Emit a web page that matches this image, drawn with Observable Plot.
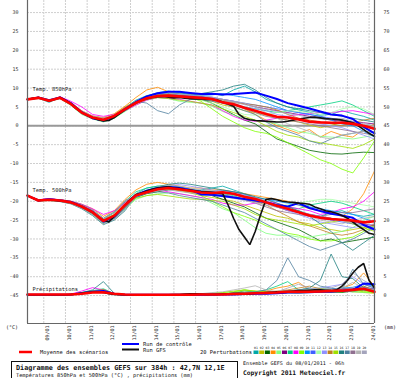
<!DOCTYPE html>
<html><head><meta charset="utf-8">
<script src="https://cdn.jsdelivr.net/npm/d3@7"></script>
<script src="https://cdn.jsdelivr.net/npm/@observablehq/plot@0.6"></script>
<style>body{margin:0;background:#fff}#c{width:400px;height:378px}</style>
</head><body><div id="c"></div><script>
// ---- axes / categories ----
const runStart = Date.UTC(2011, 0, 8, 6);
const runEnd = Date.UTC(2011, 0, 24, 6);
const H = 3600e3;
const times12 = d3.range(33).map(i => new Date(runStart + i * 12 * H));
const times6 = d3.range(65).map(i => new Date(runStart + i * 6 * H));
const dayTicks = d3.range(9, 25).map(d => new Date(Date.UTC(2011, 0, d)));
const dayLabels = ["09/01","10/01","11/01","12/01","13/01","14/01","15/01","16/01","17/01","18/01","19/01","20/01","21/01","22/01","23/01","24/01"];
const yTicks = [30,25,20,15,10,5,0,-5,-10,-15,-20,-25,-30,-35,-40,-45];
const rightLabels = [75,70,65,60,55,50,45,40,35,30,25,20,15,10,5,0];
const precipBase = -45;

// ---- mean of scenarios (12h) ----
const mean850 = [7.0,7.4,6.6,7.4,5.8,3.5,2.2,1.6,2.6,4.4,6.1,7.3,7.9,8.0,7.8,7.6,7.4,7.1,6.2,5.7,4.8,4.0,3.1,2.4,2.2,1.7,1.1,0.9,0.8,0.8,0.5,0.0,-0.8];
const mean500 = [-18.5,-19.8,-19.6,-19.8,-20.3,-21.4,-22.9,-25.2,-23.8,-21.0,-18.5,-17.6,-16.8,-16.5,-16.8,-17.2,-17.7,-17.8,-17.6,-18.0,-18.8,-19.4,-20.3,-21.2,-22.0,-22.9,-23.8,-24.4,-24.7,-24.9,-25.1,-25.6,-25.3];
const meanPrec = [0.3,0.3,0.3,0.3,0.3,0.5,0.8,0.9,0.5,0.3,0.2,0.2,0.2,0.2,0.2,0.2,0.3,0.3,0.3,0.4,0.5,0.6,0.7,0.8,1.0,1.0,1.0,1.1,1.2,1.3,1.5,1.8,1.0];

// ---- control run (12h) ----
const ctrl850 = [7.0,7.5,6.8,7.5,6.0,3.6,2.0,1.4,2.5,4.5,6.3,7.8,8.6,9.0,9.0,8.7,8.4,8.5,8.3,8.4,8.6,8.8,8.0,7.1,6.0,5.3,4.6,3.8,3.0,2.7,1.8,-0.3,-2.0];
const ctrl500 = [-18.5,-19.8,-19.5,-19.8,-20.2,-21.3,-22.8,-25.4,-24.0,-21.0,-18.3,-17.2,-16.5,-16.2,-16.5,-17.0,-18.2,-18.3,-18.6,-19.0,-19.4,-19.8,-20.3,-21.0,-21.4,-20.5,-21.8,-22.6,-23.3,-23.8,-24.4,-26.3,-27.5];
const ctrlPrec = [0.2,0.2,0.2,0.2,0.3,0.6,1.0,1.2,0.5,0.2,0.2,0.2,0.2,0.2,0.2,0.2,0.2,0.3,0.3,0.3,0.4,0.5,0.5,0.6,0.8,0.8,0.9,1.0,1.0,1.2,1.5,3.2,3.0];

// ---- GFS run (6h) ----
const gfs850 = [7.0,7.3,7.5,7.0,6.5,7.0,7.5,6.8,5.8, 4.5,3.5,2.7,2.1,1.6,1.3,1.4,2.2, 3.2,4.3,5.3,6.0,6.7,7.2,7.5,7.7, 7.8,7.6,7.4,7.5,7.3,7.2,7.1,7.2, 7.0,7.0,6.8,6.3,5.8,5.2,3.0,2.0, 1.6,1.4,1.3,1.2,1.1,1.0,1.0,1.2, 1.5,1.8,2.0,2.2,2.3,2.1,1.9,1.8, 1.7,1.5,1.2,0.8,0.0,-1.0,-2.0,-2.8];
const gfs500 = [-18.5,-19.2,-19.8,-19.6,-19.6,-19.7,-19.9,-20.0,-20.3, -20.8,-21.5,-22.2,-23.0,-24.0,-25.0,-25.5,-24.0, -22.5,-21.0,-19.5,-18.3,-17.8,-17.3,-16.8,-16.5, -16.3,-16.2,-16.5,-16.6,-16.9,-17.0,-17.2,-17.4, -17.5,-17.6,-17.8,-18.0,-21.0,-24.5,-27.5,-29.5, -31.5,-28.0,-23.5,-19.5,-19.3,-19.6,-20.0,-20.2, -20.3,-20.5,-20.6,-20.8,-21.5,-22.0,-22.5,-22.8, -23.2,-23.8,-24.5,-25.5,-26.6,-27.5,-28.5,-28.8];
const gfsPrec = [0.2,0.2,0.2,0.2,0.2,0.2,0.2,0.2,0.3, 0.4,0.6,0.8,0.9,1.0,0.8,0.5,0.3, 0.2,0.2,0.2,0.2,0.2,0.2,0.2,0.2, 0.2,0.2,0.3,0.3,0.4,0.5,0.5,0.4, 0.3,0.3,0.3,0.4,0.5,0.6,0.6,0.5, 0.5,0.6,0.7,0.8,0.9,1.0,1.0,1.1, 1.2,1.3,1.3,1.4,1.5,1.5,1.4,1.3, 1.5,2.5,4.0,6.0,7.5,8.5,4.0,2.0];

// ---- 20 perturbations (12h) ----
const pertNames = ["01","02","03","04","05","06","07","08","09","10","11","12","13","14","15","16","17","18","19","20"];
const pertColors = ["#00a8a8","#c0c000","#006400","#ff8c00","#80ff80","#800080","#00d080","#ff00ff","#80ff00","#0090ff","#4060ff","#a8ffa8","#9090ff","#c08020","#a0e000","#208080","#5080a0","#907090","#b4b4b4","#a4a4bc"];
const pert850 = [
[7.0,7.3,6.2,7.6,6.0,3.8,2.4,1.2,2.0,4.8,6.8,8.0,8.6,8.4,8.0,7.8,8.2,8.6,8.0,9.5,10.5,9.0,7.0,6.0,5.0,4.2,3.6,2.8,3.0,4.0,3.2,2.5,1.5],
[7.1,7.5,6.8,7.2,5.5,3.2,1.8,1.5,3.0,5.0,6.5,7.0,7.8,8.3,8.0,7.4,6.8,6.5,5.5,5.0,4.0,3.5,2.8,2.0,1.5,1.0,0.2,-0.5,0.0,1.0,0.5,-0.5,-2.0],
[6.9,7.4,6.5,7.4,6.0,3.6,2.5,2.0,2.2,4.0,5.8,7.5,8.2,8.5,8.0,7.5,7.0,6.0,4.5,3.0,1.5,0.5,-1.5,-3.5,-4.5,-5.5,-6.5,-7.0,-7.4,-7.5,-7.2,-7.0,-7.1],
[7.0,7.6,6.9,7.6,6.2,4.0,2.6,2.2,3.2,5.2,7.5,9.5,10.2,9.0,8.4,8.0,7.6,7.2,6.5,6.0,4.5,3.0,1.5,0.0,-1.0,-2.0,-1.0,-3.0,-1.5,-2.5,-3.0,-1.0,0.5],
[7.0,7.2,6.4,7.2,5.4,3.0,1.8,1.0,2.0,3.8,5.5,6.8,7.4,7.2,6.5,6.2,6.0,5.2,3.8,2.8,2.0,1.5,1.0,0.5,-0.5,-1.5,-2.0,-2.8,-3.0,-3.2,-3.5,-3.0,-2.5],
[7.0,7.4,6.6,7.5,5.9,3.5,2.0,1.4,2.5,4.5,6.3,7.6,8.2,8.4,8.0,7.8,7.5,7.4,7.0,6.5,5.8,5.0,4.5,4.0,3.5,3.0,2.5,2.0,1.5,1.2,1.0,0.8,0.5],
[7.0,7.3,6.7,7.3,5.6,3.3,2.0,1.8,2.8,4.6,6.2,7.2,7.8,8.5,8.8,8.2,7.8,7.0,6.0,5.5,5.0,4.5,4.0,3.5,4.0,4.5,5.0,5.5,6.0,6.6,5.5,4.0,2.5],
[7.0,7.5,6.6,7.7,6.5,5.0,3.0,2.5,3.0,4.0,5.5,6.8,7.5,7.3,7.0,6.5,6.0,5.5,4.0,2.5,1.5,1.2,1.5,2.0,2.5,3.0,3.2,3.5,3.5,3.8,4.0,3.5,3.0],
[7.0,7.4,6.6,7.4,5.8,3.4,2.2,1.6,2.4,4.4,6.0,7.3,8.0,8.2,8.0,7.6,6.5,4.5,2.5,1.0,-0.5,-1.5,-2.0,-3.0,-4.5,-6.0,-7.5,-9.0,-10.0,-11.5,-12.5,-8.5,-4.0],
[7.0,7.4,6.5,7.3,5.8,3.5,2.1,1.5,2.7,4.6,6.4,7.8,8.8,9.2,8.8,8.5,8.0,8.2,8.5,8.0,7.5,7.0,6.0,5.0,4.0,3.5,3.0,2.5,1.5,0.5,0.0,-1.5,-3.0],
[7.0,7.3,6.7,7.5,5.7,3.6,2.3,1.7,2.5,4.2,6.0,7.0,7.6,7.9,8.2,8.0,7.8,7.6,7.0,6.5,6.0,5.5,5.0,4.5,4.0,3.5,3.0,2.5,2.0,1.5,1.0,0.0,-1.0],
[7.0,7.4,6.6,7.4,5.9,3.7,2.5,1.9,2.9,4.7,6.4,7.6,8.2,8.0,7.6,7.2,6.8,6.0,5.0,4.0,3.0,2.8,3.0,3.5,4.0,3.8,3.5,3.0,3.5,4.5,5.0,4.5,3.0],
[7.0,7.4,6.6,7.3,5.6,3.2,1.9,1.3,2.3,4.2,6.1,7.4,8.0,8.2,8.5,8.0,7.6,7.0,6.5,6.0,5.0,4.5,4.0,3.0,2.5,2.0,1.0,0.5,0.0,-0.5,-1.5,-2.5,-3.5],
[7.0,7.5,6.7,7.5,6.0,3.8,2.4,1.6,2.6,4.5,6.2,7.5,8.0,8.2,7.8,7.5,7.3,7.0,6.8,6.2,5.8,5.5,5.0,4.2,3.0,2.0,1.5,1.0,0.5,0.0,0.8,1.5,2.0],
[7.0,7.4,6.5,7.4,5.8,3.4,2.1,1.5,2.5,4.3,5.9,7.0,7.5,7.2,6.8,6.5,6.0,5.5,4.5,3.5,2.5,1.5,0.0,-1.5,-2.5,-3.0,-4.0,-4.5,-5.0,-5.5,-6.0,-5.0,-3.5],
[7.0,7.3,6.6,7.4,5.9,3.6,2.2,1.4,2.2,4.0,6.0,7.5,8.3,8.6,8.5,8.3,8.5,9.0,9.5,10.5,11.0,9.5,7.5,6.0,5.0,4.5,4.0,3.5,3.0,2.5,2.0,1.5,1.0],
[7.0,7.4,6.6,7.4,5.8,3.5,2.2,1.6,2.6,4.5,6.5,6.0,4.0,3.2,5.5,7.0,7.0,6.5,6.0,5.0,4.0,3.0,1.0,-0.5,-1.5,-2.5,-4.0,-4.8,-3.5,-2.5,-2.0,-1.5,-1.8],
[7.0,7.3,6.5,7.2,5.6,3.2,1.9,1.4,2.8,4.8,6.1,7.3,7.9,8.0,7.8,7.6,7.3,6.8,6.0,5.5,4.5,3.5,2.5,2.0,1.5,1.0,0.5,0.0,-0.5,-1.0,-1.5,-2.0,-2.5],
[7.0,7.6,6.8,7.6,6.0,3.8,2.5,1.9,2.4,4.1,6.3,7.6,8.4,8.6,8.4,8.2,8.0,7.6,7.0,6.5,6.0,5.0,3.5,2.0,0.5,-0.5,-1.5,-3.0,-3.5,-2.5,-2.0,-1.5,-1.5],
[7.0,7.2,6.4,7.3,5.9,3.9,2.6,2.0,2.9,4.6,6.0,7.2,7.8,7.9,7.7,7.5,7.2,7.0,6.6,6.3,5.6,5.0,4.4,3.8,3.2,2.8,2.2,1.8,1.6,2.0,1.2,0.5,0.0]
];
const pert500 = [
[-18.5,-19.7,-19.5,-20.0,-20.5,-21.8,-23.5,-25.8,-24.5,-22.0,-18.0,-16.5,-16.0,-16.2,-17.0,-17.5,-17.0,-16.5,-16.0,-17.0,-18.0,-19.0,-20.5,-21.5,-22.0,-22.5,-23.5,-24.0,-23.0,-22.5,-23.5,-24.0,-23.5],
[-18.5,-19.8,-19.6,-19.7,-20.2,-21.2,-22.6,-24.8,-23.5,-20.5,-18.0,-17.5,-17.0,-16.8,-17.2,-17.8,-18.5,-19.0,-19.5,-20.0,-21.0,-22.0,-23.0,-24.0,-24.5,-25.5,-26.0,-27.0,-27.5,-28.0,-27.5,-27.0,-26.5],
[-18.5,-19.9,-19.7,-19.9,-20.4,-21.5,-23.0,-25.5,-24.5,-21.5,-19.0,-18.0,-17.5,-17.0,-16.8,-17.0,-17.5,-18.5,-19.5,-20.5,-21.5,-23.0,-24.5,-25.5,-26.5,-27.5,-29.0,-30.5,-30.0,-31.0,-30.5,-30.0,-29.5],
[-18.5,-19.6,-19.4,-19.6,-20.0,-20.8,-22.0,-24.0,-22.5,-19.5,-17.0,-15.5,-15.0,-15.5,-16.0,-16.5,-16.5,-17.0,-17.0,-17.5,-18.0,-18.5,-19.0,-19.5,-20.0,-21.0,-22.0,-22.5,-23.0,-24.0,-22.0,-18.0,-12.0],
[-18.5,-19.8,-19.6,-19.8,-20.4,-21.6,-23.2,-25.6,-24.5,-22.0,-19.5,-18.5,-18.0,-17.8,-18.0,-18.5,-19.0,-20.5,-22.0,-23.0,-25.0,-27.0,-28.5,-29.0,-29.0,-29.5,-29.5,-29.0,-28.5,-28.0,-27.0,-25.0,-24.0],
[-18.5,-19.6,-19.4,-19.6,-20.1,-21.1,-22.4,-24.6,-23.0,-20.2,-18.5,-17.5,-16.8,-16.5,-16.7,-17.0,-17.5,-17.6,-17.8,-18.2,-19.0,-19.8,-20.5,-21.5,-22.5,-23.0,-23.5,-24.0,-24.5,-25.0,-25.5,-26.0,-26.5],
[-18.5,-19.7,-19.5,-19.7,-20.2,-21.3,-22.7,-24.8,-23.0,-20.0,-17.5,-16.5,-16.0,-15.8,-16.2,-16.8,-17.2,-17.5,-18.0,-18.5,-19.5,-20.0,-20.5,-21.0,-21.5,-22.0,-21.0,-20.5,-20.0,-20.5,-21.5,-22.5,-23.5],
[-18.5,-19.6,-19.3,-19.6,-20.0,-20.8,-22.0,-23.5,-22.5,-20.5,-18.5,-17.5,-17.0,-17.5,-18.0,-18.5,-19.0,-19.5,-20.5,-21.0,-21.0,-20.5,-20.0,-20.5,-21.5,-22.0,-22.5,-23.5,-23.0,-22.0,-21.5,-20.0,-17.5],
[-18.5,-19.8,-19.6,-19.8,-20.3,-21.4,-23.0,-25.3,-24.0,-21.2,-18.8,-17.8,-17.0,-16.6,-17.0,-17.5,-18.5,-20.0,-21.5,-23.0,-24.0,-25.0,-26.5,-27.5,-28.5,-29.0,-30.0,-30.5,-30.5,-30.0,-29.5,-28.0,-26.5],
[-18.5,-19.8,-19.6,-19.9,-20.4,-21.5,-23.2,-25.8,-24.5,-21.8,-19.0,-17.8,-16.8,-16.2,-16.5,-17.0,-17.3,-17.5,-17.5,-18.0,-18.5,-19.0,-19.5,-20.0,-20.5,-21.0,-21.5,-22.0,-22.5,-23.0,-23.5,-24.5,-25.5],
[-18.5,-19.8,-19.6,-19.8,-20.3,-21.4,-23.0,-25.5,-24.2,-21.5,-18.8,-17.5,-16.5,-16.0,-16.2,-16.8,-17.2,-17.4,-17.2,-17.5,-18.2,-19.0,-20.0,-21.0,-22.0,-23.0,-24.0,-24.5,-25.0,-25.5,-26.0,-26.5,-27.0],
[-18.5,-19.7,-19.5,-19.7,-20.2,-21.2,-22.7,-24.9,-23.4,-20.6,-18.2,-17.2,-16.5,-16.2,-16.5,-17.0,-17.6,-18.0,-18.5,-19.0,-19.5,-20.0,-20.5,-21.0,-21.0,-20.5,-20.0,-19.5,-19.5,-20.0,-20.5,-21.0,-21.5],
[-18.5,-19.8,-19.6,-19.8,-20.4,-21.6,-23.2,-25.6,-24.2,-21.4,-18.6,-17.4,-16.4,-15.8,-15.6,-16.0,-16.5,-17.0,-17.5,-18.0,-18.5,-19.5,-20.5,-21.5,-22.5,-23.5,-24.5,-25.5,-26.0,-26.5,-27.0,-26.5,-26.0],
[-18.5,-19.8,-19.6,-19.8,-20.3,-21.3,-22.8,-25.0,-23.6,-20.8,-18.4,-17.5,-17.0,-16.8,-17.0,-17.4,-17.8,-18.2,-18.5,-19.0,-19.5,-20.0,-21.0,-22.5,-24.0,-25.5,-26.5,-27.5,-28.5,-29.0,-28.5,-27.5,-26.0],
[-18.5,-19.9,-19.8,-20.0,-20.6,-21.8,-23.4,-25.9,-24.0,-21.6,-19.2,-18.5,-18.2,-18.6,-19.0,-19.4,-19.5,-19.8,-20.0,-21.0,-22.0,-23.5,-24.5,-25.0,-25.5,-26.0,-26.5,-26.0,-25.5,-25.0,-26.0,-27.0,-28.0],
[-18.5,-19.9,-19.8,-20.1,-20.7,-22.0,-23.8,-26.2,-25.0,-22.5,-18.4,-17.2,-16.2,-15.5,-15.2,-15.5,-16.0,-16.5,-17.0,-17.5,-18.0,-18.8,-19.5,-20.5,-21.5,-22.5,-24.0,-26.0,-28.0,-31.0,-33.0,-31.0,-29.0],
[-18.5,-19.7,-19.4,-19.6,-20.0,-20.9,-22.3,-24.5,-22.8,-19.8,-18.6,-17.8,-17.5,-17.8,-18.5,-19.0,-19.5,-20.0,-21.0,-22.0,-23.0,-24.5,-26.0,-27.5,-29.0,-30.5,-32.0,-33.0,-32.0,-31.0,-30.0,-28.5,-27.0],
[-18.5,-19.9,-19.7,-19.9,-20.5,-21.7,-23.3,-25.7,-24.6,-21.8,-18.5,-17.6,-16.8,-16.5,-16.8,-17.2,-17.7,-18.0,-18.2,-18.8,-19.5,-20.5,-21.5,-22.5,-23.0,-23.5,-24.0,-24.0,-23.5,-23.0,-23.0,-22.5,-22.0],
[-18.5,-19.7,-19.5,-19.7,-20.1,-21.0,-22.4,-24.6,-23.0,-20.0,-18.2,-17.0,-16.2,-15.8,-16.0,-16.5,-17.0,-17.2,-17.5,-18.0,-18.5,-19.0,-20.0,-21.0,-22.0,-23.0,-24.0,-25.0,-25.5,-26.0,-25.0,-24.5,-24.0],
[-18.5,-19.8,-19.7,-20.0,-20.6,-21.9,-23.6,-26.0,-24.8,-22.3,-18.7,-17.8,-17.2,-17.0,-17.4,-17.8,-18.2,-18.4,-18.8,-19.2,-19.8,-20.4,-21.0,-21.6,-22.2,-22.8,-23.4,-24.0,-24.6,-25.2,-25.8,-26.4,-27.0]
];
const pertPrec = [
[0.2,0.2,0.2,0.2,0.3,0.8,1.2,1.5,0.4,0.2,0.2,0.2,0.2,0.2,0.2,0.2,0.3,0.3,0.4,0.5,0.6,0.5,0.8,1.0,1.2,1.0,1.5,1.8,1.5,1.2,1.0,1.5,1.0],
[0.2,0.2,0.2,0.2,0.2,0.5,0.9,1.0,0.3,0.2,0.2,0.2,0.2,0.2,0.2,0.2,0.2,0.2,0.3,0.3,0.4,0.5,0.6,0.8,0.7,0.6,0.8,1.0,1.2,1.5,1.0,0.8,0.6],
[0.2,0.2,0.2,0.2,0.3,0.6,1.0,1.4,0.5,0.2,0.2,0.2,0.2,0.2,0.2,0.2,0.2,0.3,0.4,0.8,1.2,1.0,0.8,0.6,0.8,1.2,1.5,1.2,1.0,0.8,1.2,1.5,1.0],
[0.2,0.2,0.2,0.2,0.2,0.4,0.8,1.0,0.4,0.2,0.2,0.2,0.2,0.2,0.2,0.2,0.3,0.3,0.3,0.4,0.5,0.8,1.2,2.0,2.5,3.5,1.5,1.0,1.2,2.0,3.0,6.0,2.5],
[0.2,0.2,0.2,0.2,0.3,0.7,1.1,1.3,0.4,0.2,0.2,0.2,0.2,0.2,0.2,0.2,0.2,0.3,0.5,0.8,1.5,1.0,0.8,1.0,1.2,1.5,1.8,2.0,1.5,1.2,1.0,0.8,0.8],
[0.2,0.2,0.2,0.2,0.2,0.5,1.0,1.2,0.4,0.2,0.2,0.2,0.2,0.2,0.2,0.2,0.2,0.2,0.3,0.3,0.4,0.5,0.6,0.7,0.8,0.9,1.0,1.2,1.4,1.5,1.8,2.0,1.5],
[0.2,0.2,0.2,0.2,0.3,0.8,1.3,1.8,0.5,0.2,0.2,0.2,0.2,0.2,0.2,0.2,0.3,0.3,0.4,0.5,0.8,1.0,1.5,2.5,3.7,1.5,1.0,1.2,1.5,2.0,1.5,2.5,1.2],
[0.2,0.2,0.2,0.2,0.4,1.2,2.1,1.5,0.4,0.2,0.2,0.2,0.2,0.2,0.2,0.2,0.2,0.2,0.3,0.3,0.4,0.4,0.5,0.6,0.8,1.0,1.0,1.2,1.5,1.8,1.5,2.0,1.8],
[0.2,0.2,0.2,0.2,0.3,0.6,1.0,1.2,0.4,0.2,0.2,0.2,0.2,0.2,0.2,0.3,0.4,0.6,0.8,1.0,1.5,1.2,0.8,0.6,0.8,1.0,1.2,1.0,0.8,1.0,1.5,1.0,0.8],
[0.2,0.2,0.2,0.2,0.2,0.5,0.9,1.1,0.3,0.2,0.2,0.2,0.2,0.2,0.2,0.2,0.2,0.2,0.3,0.4,0.5,0.5,0.6,0.8,1.0,1.0,1.2,1.5,1.8,2.0,2.2,3.0,2.5],
[0.2,0.2,0.2,0.2,0.3,0.6,1.0,1.3,0.4,0.2,0.2,0.2,0.2,0.2,0.2,0.2,0.2,0.3,0.3,0.4,0.5,0.6,0.6,0.7,0.8,0.8,1.0,1.2,1.2,1.5,1.8,2.2,1.8],
[0.2,0.2,0.2,0.2,0.3,0.6,1.1,1.4,0.4,0.2,0.2,0.2,0.2,0.2,0.2,0.2,0.3,0.4,0.6,0.8,1.0,0.8,0.6,0.8,1.0,1.2,1.4,1.6,1.4,1.2,1.5,1.8,1.2],
[0.2,0.2,0.2,0.2,0.2,0.5,0.9,1.2,0.4,0.2,0.2,0.2,0.2,0.2,0.2,0.2,0.2,0.2,0.3,0.4,0.5,0.6,0.8,1.0,1.2,1.5,1.8,2.0,2.5,3.0,5.0,3.0,2.0],
[0.2,0.2,0.2,0.2,0.3,0.7,1.2,1.6,0.5,0.2,0.2,0.2,0.2,0.2,0.2,0.2,0.2,0.3,0.4,0.5,0.6,0.8,1.0,1.2,1.5,2.0,2.5,1.8,1.5,1.2,1.5,2.5,1.5],
[0.2,0.2,0.2,0.2,0.3,0.6,1.0,1.2,0.4,0.2,0.2,0.2,0.2,0.2,0.2,0.2,0.3,0.5,0.8,1.2,1.5,1.2,1.0,0.8,1.0,1.2,1.0,0.8,1.0,1.2,1.5,1.2,1.0],
[0.2,0.2,0.2,0.2,0.3,0.8,1.5,3.7,0.6,0.2,0.2,0.2,0.2,0.2,0.2,0.2,0.2,0.3,0.3,0.4,0.5,0.6,0.8,1.0,1.2,1.5,2.0,4.0,11.0,5.0,4.5,2.0,1.5],
[0.2,0.2,0.2,0.2,0.2,0.5,0.9,1.1,0.4,0.2,0.2,0.2,0.2,0.2,0.2,0.2,0.2,0.3,0.4,0.5,0.8,1.0,1.5,4.0,10.0,5.0,4.0,2.5,2.0,1.5,7.0,3.0,2.0],
[0.2,0.2,0.2,0.2,0.3,0.6,1.0,1.3,0.4,0.2,0.2,0.2,0.2,0.2,0.2,0.2,0.2,0.2,0.3,0.4,0.5,0.6,0.7,0.8,1.0,1.2,1.0,1.2,1.5,1.8,2.0,1.5,1.2],
[0.2,0.2,0.2,0.2,0.3,0.6,1.0,1.2,0.4,0.2,0.2,0.2,0.2,0.2,0.2,0.3,0.5,0.8,1.0,1.5,2.0,2.6,1.5,1.0,1.2,1.5,1.5,1.2,1.5,2.0,3.5,2.0,1.5],
[0.2,0.2,0.2,0.2,0.2,0.5,0.8,1.0,0.3,0.2,0.2,0.2,0.2,0.2,0.2,0.2,0.2,0.2,0.3,0.4,0.5,0.6,0.8,1.0,2.0,3.0,2.0,1.5,2.0,3.0,6.0,4.0,2.5]
];

// ---- build ----
const rows = (times, vals, isPrec) => vals.map((v, i) => ({t: times[i], y: isPrec ? precipBase + v : v}));
const seriesLine = (times, vals, isPrec, stroke, w) =>
  Plot.line(rows(times, vals, isPrec), {x: "t", y: "y", stroke, strokeWidth: w, strokeLinejoin: "miter"});

const marks = [
  Plot.ruleY(yTicks, {stroke: "#cfcfcf", strokeDasharray: "2,1"}),
  Plot.ruleX(dayTicks, {stroke: "#cfcfcf", strokeDasharray: "2,1"}),
  Plot.ruleY([0], {stroke: "#999", strokeWidth: 2})
];
pertColors.forEach((c, k) => {
  marks.push(seriesLine(times12, pert850[k], false, c, 0.8));
  marks.push(seriesLine(times12, pert500[k], false, c, 0.8));
  marks.push(seriesLine(times12, pertPrec[k], true, c, 0.8));
});
[[ctrl850, false], [ctrl500, false], [ctrlPrec, true]].forEach(([v, p]) => marks.push(seriesLine(times12, v, p, "#0000ff", 2)));
[[gfs850, false], [gfs500, false], [gfsPrec, true]].forEach(([v, p]) => marks.push(seriesLine(times6, v, p, "#111", 1.6)));
[[mean850, false], [mean500, false], [meanPrec, true]].forEach(([v, p]) => marks.push(seriesLine(times12, v, p, "#ff0000", 2.6)));

marks.push(
  Plot.ruleX([new Date(runStart), new Date(runEnd)], {stroke: "#666", strokeWidth: 1.2}),
  Plot.ruleY([-52.4], {stroke: "#666", strokeWidth: 1.2}),
  Plot.text(yTicks, {y: d => d, text: d => String(d), frameAnchor: "left", textAnchor: "end", dx: -9, fontSize: 5, fill: "#333"}),
  Plot.text(yTicks, {y: d => d, text: (d, i) => String(rightLabels[i]), frameAnchor: "right", textAnchor: "start", dx: 9, fontSize: 5, fill: "#333"}),
  Plot.text(dayTicks, {x: d => d, text: (d, i) => dayLabels[i], frameAnchor: "bottom", rotate: -90, textAnchor: "end", dx: 5.5, dy: 2, fontSize: 5, fill: "#333"}),
  Plot.text(["Temp. 850hPa", "Temp. 500hPa", "Précipitations"], {y: [9.8, -17.2, -43.4], text: d => d, frameAnchor: "left", textAnchor: "start", dx: 5, fontSize: 5.4, fill: "#222"})
);

const chart = Plot.plot({
  width: 400, height: 378,
  marginLeft: 27, marginRight: 26, marginTop: 0, marginBottom: 55,
  x: {type: "utc", domain: [new Date(runStart), new Date(runEnd)], axis: null},
  y: {domain: [-52.4, 33.2], axis: null},
  style: {fontFamily: "DejaVu Sans Mono", background: "#fff", color: "#222"},
  marks
});
document.getElementById("c").appendChild(chart);

// ---- legend & captions ----
const svg = d3.select(chart);
const g = svg.append("g").attr("font-family", "DejaVu Sans Mono").attr("fill", "#111").attr("text-anchor", "start");
const txt = (x, y, s, size, bold) => g.append("text").attr("x", x).attr("y", y).attr("font-size", size).attr("font-weight", bold ? "bold" : "normal").attr("text-anchor", "start").text(s);
txt(6, 329, "(°C)", 5, false);
txt(384, 329, "(mm)", 5, false);
g.append("line").attr("x1", 122).attr("x2", 139).attr("y1", 344).attr("y2", 344).attr("stroke", "#0000ff").attr("stroke-width", 2);
txt(143, 346, "Run de contrôle", 5.4, false);
g.append("line").attr("x1", 122).attr("x2", 139).attr("y1", 349.5).attr("y2", 349.5).attr("stroke", "#111").attr("stroke-width", 2);
txt(143, 351.5, "Run GFS", 5.4, false);
g.append("line").attr("x1", 19).attr("x2", 32).attr("y1", 352).attr("y2", 352).attr("stroke", "#ff0000").attr("stroke-width", 2.5);
txt(40, 354, "Moyenne des scénarios", 5.4, false);
txt(200, 354, "20 Perturbations", 5.4, false);
pertNames.forEach((n, i) => {
  const x0 = 253.5 + i * 5.7;
  g.append("text").attr("x", x0 + 2.5).attr("y", 348.5).attr("font-size", 3.2).attr("text-anchor", "middle").text(n);
  g.append("rect").attr("x", x0).attr("y", 350.5).attr("width", 5).attr("height", 3.5).attr("fill", pertColors[i]);
});
g.append("rect").attr("x", 11.5).attr("y", 361.5).attr("width", 226).attr("height", 20).attr("fill", "none").attr("stroke", "#111");
txt(16, 369.5, "Diagramme des ensembles GEFS sur 384h : 42,7N 12,1E", 6.8, true);
txt(16, 376.5, "Températures 850hPa et 500hPa (°C) , précipitations (mm)", 5.25, false);
txt(243, 365, "Ensemble GEFS du 08/01/2011 - 06h", 5.1, false);
txt(243, 375, "Copyright 2011 Meteociel.fr", 6.3, true);
</script></body></html>
